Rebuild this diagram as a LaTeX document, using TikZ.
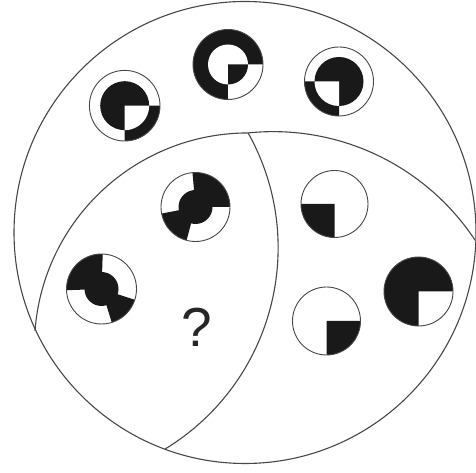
\documentclass[tikz,border=0pt]{standalone}
\usepackage{fontspec}
\newfontfamily\qfont{Liberation Sans}
\begin{document}
\begin{tikzpicture}[x=1pt,y=1pt,
  frame/.style={draw=black!72, line width=1.1pt},
  fig/.style={draw=black!72, line width=0.9pt},
  ink/.style={fill=black!90}]
\useasboundingbox (0,0) rectangle (476,473);
% outer circle and regions
\draw[frame] (245,240.5) circle[radius=231];
\draw[frame] (35,142) arc[start angle=175.8, end angle=90, radius=213.7]
  coordinate (top) arc[start angle=95.95, end angle=33.36, radius=242];
\draw[frame] (top) arc[start angle=29.24, end angle=-58.66, radius=235.4];
% centres
\coordinate (c1) at (124.7,367.3);
\coordinate (c2) at (228,408.5);
\coordinate (c3) at (339,391.5);
\coordinate (c4) at (195.5,266);
\coordinate (c5) at (101.5,184);
\coordinate (c6) at (334.5,269);
\coordinate (c7) at (326.5,152);
\coordinate (c8) at (418.5,181.5);
% fig 1
\fill[ink] (c1) -- ++(0:35.3) arc[start angle=0,end angle=-90,radius=35.3] -- cycle;
\fill[ink] (c1) circle[radius=24.5];
\fill[white] (c1) -- ++(0:24.5) arc[start angle=0,end angle=-90,radius=24.5] -- cycle;
\draw[fig] (c1) circle[radius=35.3];
% fig 2
\fill[ink] (c2) circle[radius=35];
\fill[white] (c2) circle[radius=20];
\fill[white] (c2) -- ++(0:35) arc[start angle=0,end angle=-90,radius=35] -- cycle;
\fill[ink] (c2) -- ++(0:20) arc[start angle=0,end angle=-90,radius=20] -- cycle;
\draw[fig] (c2) circle[radius=35];
% fig 3
\fill[ink] (c3) -- ++(180:34.5) arc[start angle=180,end angle=270,radius=34.5] -- cycle;
\fill[ink] (c3) circle[radius=24.5];
\fill[white] (c3) -- ++(180:24.5) arc[start angle=180,end angle=270,radius=24.5] -- cycle;
\draw[fig] (c3) circle[radius=34.5];
% fig 4
\fill[ink] (c4) -- ++(0:34.5) arc[start angle=0,end angle=95,radius=34.5] -- cycle;
\fill[ink] (c4) -- ++(191:34.5) arc[start angle=191,end angle=255,radius=34.5] -- cycle;
\fill[ink] (c4) circle[radius=17];
\draw[fig] (c4) circle[radius=34.5];
% fig 5
\fill[ink] (c5) -- ++(88:35) arc[start angle=88,end angle=182,radius=35] -- cycle;
\fill[ink] (c5) -- ++(-73:35) arc[start angle=-73,end angle=-18,radius=35] -- cycle;
\fill[ink] (c5) circle[radius=17];
\draw[fig] (c5) circle[radius=35];
% fig 6
\fill[ink] (c6) -- ++(180:33.5) arc[start angle=180,end angle=270,radius=33.5] -- cycle;
\draw[fig] (c6) circle[radius=33.5];
% fig 7
\fill[ink] (c7) -- ++(270:34) arc[start angle=270,end angle=360,radius=34] -- cycle;
\draw[fig] (c7) circle[radius=34];
% fig 8
\fill[ink] (c8) circle[radius=34.5];
\fill[white] (c8) -- ++(270:34.5) arc[start angle=270,end angle=360,radius=34.5] -- cycle;
\draw[fig] (c8) circle[radius=34.5];
% question mark
\node[font=\qfont\fontsize{55}{55}\selectfont, text=black!85, inner sep=0pt] (q) at (196.5,145.5) {?};
\end{tikzpicture}
\end{document}
